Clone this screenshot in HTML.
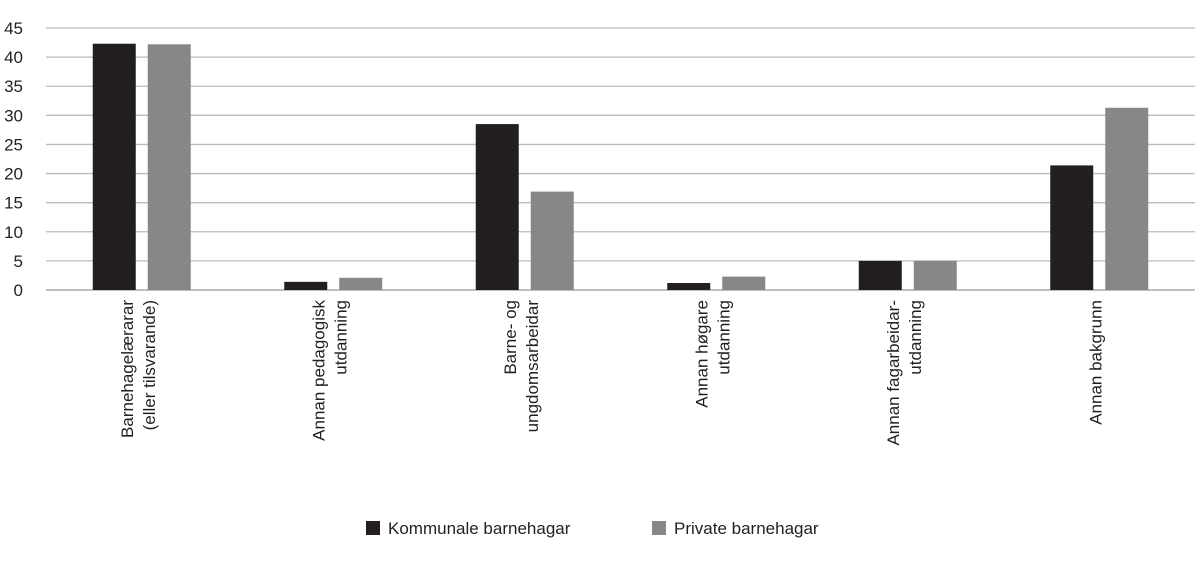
<!DOCTYPE html>
<html><head><meta charset="utf-8"><style>
body{margin:0;background:#fff;}
svg text{font-family:"Liberation Sans",sans-serif;fill:#231f20;}
</style></head><body>
<svg id="chart" width="1200" height="558" xmlns="http://www.w3.org/2000/svg"></svg>
<script>
const categories=[["Barnehagelærarar","(eller tilsvarande)"],["Annan pedagogisk","utdanning"],["Barne- og","ungdomsarbeidar"],["Annan høgare","utdanning"],["Annan fagarbeidar-","utdanning"],["Annan bakgrunn"]];
const kommunale=[42.3,1.4,28.5,1.2,5.0,21.4];
const privat=[42.2,2.1,16.9,2.3,5.0,31.3];
const ticks=[0,5,10,15,20,25,30,35,40,45];
const svg=document.getElementById('chart');
const NS='http://www.w3.org/2000/svg';
const x0=46,x1=1195,y0=290,yTop=28,maxV=45;
const y=v=>y0-(v/maxV)*(y0-yTop);
const bw=(x1-x0)/categories.length;
function mk(t,a){const e=document.createElementNS(NS,t);for(const k in a)e.setAttribute(k,a[k]);svg.appendChild(e);return e;}
ticks.forEach(t=>{
 const l=mk('line',{x1:x0,x2:x1,y1:y(t),y2:y(t),stroke:t===0?'#999':'#bbb','stroke-width':1.3});
 
 
 const tx=mk('text',{x:23,y:y(t)+6,'text-anchor':'end','font-size':17});
 tx.textContent=t;
 
 
});
categories.forEach((c,i)=>{
 const cx=x0+bw*(i+0.5);
 const r1=mk('rect',{x:cx-49,y:y(kommunale[i]),width:43,height:y0-y(kommunale[i]),fill:'#231f20'});
 
 
 const r2=mk('rect',{x:cx+6,y:y(privat[i]),width:43,height:y0-y(privat[i]),fill:'#878787'});
 
 
 const n=c.length;
 c.forEach((line,j)=>{
  const lx=cx-4+(j-(n-1)/2)*22+6;
  const t=mk('text',{x:lx,y:300,'text-anchor':'end','font-size':17,transform:`rotate(-90 ${lx} 300)`});
  t.textContent=line;
  
  
 });
});
const legend=[["Kommunale barnehagar","#231f20",366],["Private barnehagar","#878787",652]];
legend.forEach(([lab,col,lx])=>{
 const r=mk('rect',{x:lx,y:521,width:14,height:14,fill:col});
 
 
 const t=mk('text',{x:lx+22,y:534,'font-size':17});
 t.textContent=lab;
 
 
});
</script>
</body></html>
